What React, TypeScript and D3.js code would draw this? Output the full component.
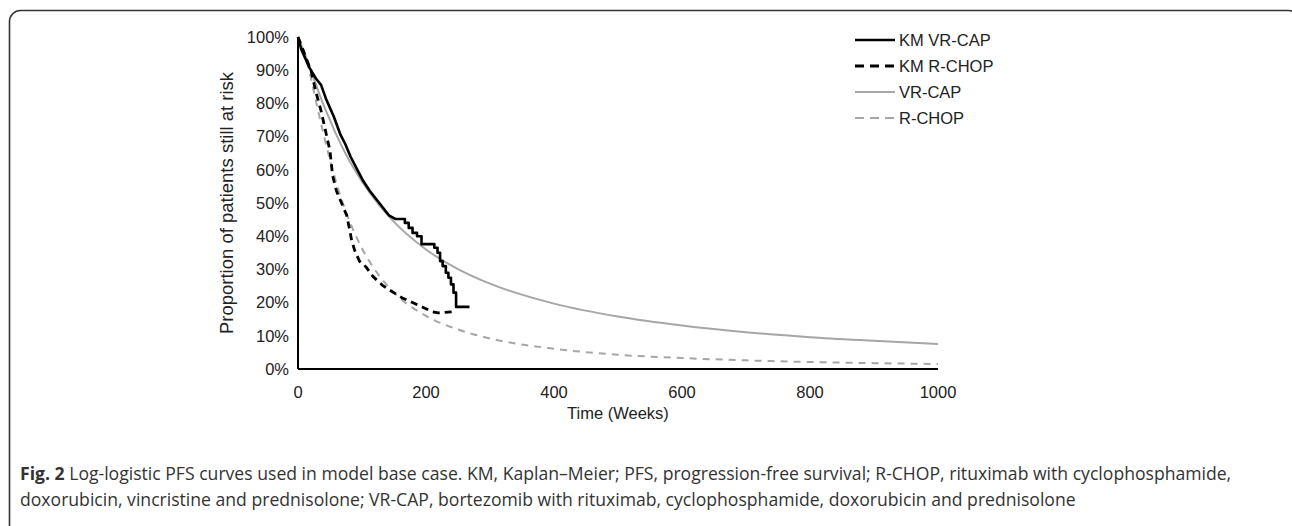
import React from 'react';
import * as d3 from 'd3';

// model curve sample points (weeks) and proportions
const modelWeeks = [0, 10, 20, 30, 40, 50, 60, 75, 100, 125, 150, 200, 250, 300, 400, 500, 600, 700, 800, 900, 1000];
const vrcapModel = [1, 0.953, 0.9, 0.846, 0.795, 0.75, 0.705, 0.646, 0.565, 0.498, 0.443, 0.36, 0.301, 0.257, 0.197, 0.158, 0.131, 0.111, 0.096, 0.085, 0.075];
const rchopModel = [1, 0.955, 0.878, 0.79, 0.707, 0.63, 0.56, 0.473, 0.363, 0.286, 0.23, 0.16, 0.119, 0.092, 0.061, 0.043, 0.033, 0.026, 0.021, 0.0176, 0.015];

// Kaplan-Meier curves
const kmVrcapWeeks = [0, 5, 18, 28, 36, 43.5, 56, 66.5, 74, 82, 92, 102, 112, 127, 142, 152, 167, 167, 173, 173, 179, 179, 186, 186, 193, 193, 213, 213, 218, 218, 222, 222, 226, 226, 231, 231, 235, 235, 239, 239, 243, 243, 247, 247, 268];
const kmVrcapValues = [1, 0.963, 0.907, 0.875, 0.856, 0.815, 0.76, 0.705, 0.677, 0.64, 0.603, 0.566, 0.537, 0.5, 0.463, 0.452, 0.452, 0.44, 0.44, 0.425, 0.425, 0.41, 0.41, 0.4, 0.4, 0.376, 0.376, 0.365, 0.365, 0.35, 0.35, 0.325, 0.325, 0.31, 0.31, 0.29, 0.29, 0.275, 0.275, 0.255, 0.255, 0.23, 0.23, 0.187, 0.187];
const kmRchopWeeks = [0, 13, 20.5, 28, 36, 43.5, 50, 54, 60, 68, 76, 81, 83.5, 88.6, 96, 106.5, 117, 132, 147, 163, 178, 194, 209, 219, 245];
const kmRchopValues = [1, 0.935, 0.898, 0.834, 0.778, 0.713, 0.657, 0.583, 0.537, 0.5, 0.463, 0.417, 0.39, 0.357, 0.325, 0.307, 0.279, 0.252, 0.233, 0.214, 0.201, 0.187, 0.173, 0.169, 0.173];

const xTicks = [0, 200, 400, 600, 800, 1000];
const yTicks = [0, 0.1, 0.2, 0.3, 0.4, 0.5, 0.6, 0.7, 0.8, 0.9, 1];

const series = [
  { name: 'KM VR-CAP', weeks: kmVrcapWeeks, values: kmVrcapValues, color: '#000', width: 2.6, dash: null },
  { name: 'KM R-CHOP', weeks: kmRchopWeeks, values: kmRchopValues, color: '#000', width: 2.8, dash: '7,5' },
  { name: 'VR-CAP', weeks: modelWeeks, values: vrcapModel, color: '#a6a6a6', width: 2, dash: null },
  { name: 'R-CHOP', weeks: modelWeeks, values: rchopModel, color: '#a6a6a6', width: 2, dash: '7,6' },
];

const W = 1292;
const H = 526;
const font = '"Liberation Sans", Arial, sans-serif';
const capFont = '"Open Sans", sans-serif';

export default function App() {
  const x = d3.scaleLinear().domain([0, 1000]).range([298, 938]);
  const y = d3.scaleLinear().domain([0, 1]).range([369, 37]);
  const pct = d3.format('.0%');

  const line = (s: typeof series[number]) => {
    const pts = s.weeks.map((w, i) => [w, s.values[i]] as [number, number]);
    const gen = d3
      .line<[number, number]>()
      .x(d => x(d[0]))
      .y(d => y(d[1]))
      .curve(s.name.startsWith('KM') ? d3.curveLinear : d3.curveMonotoneX);
    return gen(pts) || '';
  };

  return (
    <svg width={W} height={H} style={{ position: 'absolute', left: 0, top: 0, background: '#fff' }}>
      <rect x={9.5} y={10.5} width={1290} height={600} rx={11} fill="none" stroke="#333" strokeWidth={1.6} />

      {/* plot lines, models first so KM sits on top */}
      {[series[2], series[3], series[0], series[1]].map(s => (
        <path
          key={s.name}
          d={line(s)}
          fill="none"
          stroke={s.color}
          strokeWidth={s.width}
          strokeDasharray={s.dash || undefined}
          strokeLinejoin="round"
        />
      ))}

      {/* axes */}
      <line x1={x(0)} x2={x(0)} y1={y(1)} y2={y(0)} stroke="#000" strokeWidth={2} />
      <line x1={x(0)} x2={x(1000)} y1={y(0)} y2={y(0)} stroke="#000" strokeWidth={2} />

      {yTicks.map(t => (
        <text key={t} x={289} y={y(t)} dy="0.35em" textAnchor="end" fontFamily={font} fontSize={16.5} fill="#222">
          {pct(t)}
        </text>
      ))}
      {xTicks.map(t => (
        <text key={t} x={x(t)} y={392} dy="0.35em" textAnchor="middle" fontFamily={font} fontSize={16.5} fill="#222">
          {t}
        </text>
      ))}
      <text x={618} y={413} dy="0.35em" textAnchor="middle" fontFamily={font} fontSize={16.5} fill="#222">
        Time (Weeks)
      </text>
      <text
        transform={`translate(227,${y(0.5)}) rotate(-90)`}
        dy="0.35em"
        textAnchor="middle"
        fontFamily={font}
        fontSize={18.5}
        fill="#222"
      >
        Proportion of patients still  at risk
      </text>

      {/* legend */}
      {series.map((s, i) => (
        <g key={s.name} transform={`translate(855,${40 + i * 26})`}>
          <line x1={0} x2={40} stroke={s.color} strokeWidth={s.width} strokeDasharray={s.dash ? '9,6' : undefined} />
          <text x={44} dy="0.35em" fontFamily={font} fontSize={16.5} fill="#222">
            {s.name}
          </text>
        </g>
      ))}

      {/* caption */}
      <text x={20} y={474} dy="0.35em" fontFamily={capFont} fontSize={17.6} fill="#333">
        <tspan fontWeight="bold">Fig. 2</tspan> Log-logistic PFS curves used in model base case. KM, Kaplan–Meier; PFS, progression-free survival; R-CHOP, rituximab with cyclophosphamide,
      </text>
      <text x={20} y={500} dy="0.35em" fontFamily={capFont} fontSize={17.6} fill="#333">
        doxorubicin, vincristine and prednisolone; VR-CAP, bortezomib with rituximab, cyclophosphamide, doxorubicin and prednisolone
      </text>
    </svg>
  );
}
